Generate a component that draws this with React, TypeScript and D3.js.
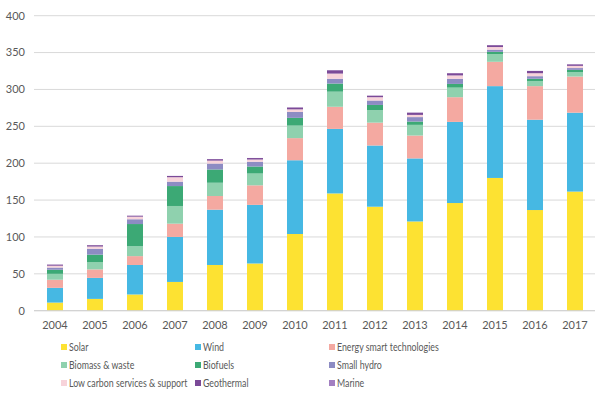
import * as d3 from "d3";

const years = ["2004", "2005", "2006", "2007", "2008", "2009", "2010", "2011", "2012", "2013", "2014", "2015", "2016", "2017"];

const solar = [11, 16, 22, 39, 62, 64, 104, 159, 141, 121, 146, 180, 136.5, 161.5];
const wind = [20, 28.5, 40, 61, 75, 79.5, 100, 87.5, 83, 85.5, 110, 124.5, 122.5, 107];
const energySmart = [11, 11.5, 12, 18, 18.5, 26.5, 30, 30, 31, 31, 33.5, 33, 45.5, 49];
const biomass = [8, 10, 13.5, 24, 18, 16, 17, 20.5, 17, 14.5, 13, 10.5, 7, 6];
const biofuels = [5.5, 10, 30, 27, 18, 9.5, 10.5, 11, 7, 4.5, 5, 3, 3, 3];
const smallHydro = [3, 8, 6.5, 6, 8, 6.5, 8, 6.5, 6, 6, 7, 3, 3.5, 2.5];
const lowCarbon = [2.5, 3, 3.5, 6, 4, 3, 3.5, 7, 4.5, 3, 4.5, 3.5, 4, 3];
const geothermal = [1.5, 1.8, 1.3, 1.7, 2, 2, 2.5, 4.5, 2, 3, 3, 2.5, 3, 2];
const marine = [0.1, 0.1, 0.1, 0.1, 0.1, 0.1, 0.2, 0.2, 0.2, 0.2, 0.2, 0.2, 0.2, 0.2];

const yTicks = [0, 50, 100, 150, 200, 250, 300, 350, 400];

const seriesList = [
  { name: "Solar", values: solar, color: "#fde232" },
  { name: "Wind", values: wind, color: "#46b8e3" },
  { name: "Energy smart technologies", values: energySmart, color: "#f4a9a1" },
  { name: "Biomass & waste", values: biomass, color: "#8fd1ae" },
  { name: "Biofuels", values: biofuels, color: "#3ca975" },
  { name: "Small hydro", values: smallHydro, color: "#8d8cc3" },
  { name: "Low carbon services & support", values: lowCarbon, color: "#f7d3da" },
  { name: "Geothermal", values: geothermal, color: "#7b4a98" },
  { name: "Marine", values: marine, color: "#a27fc1" },
];

const width = 609;
const height = 394;
const font = "Lato, 'Open Sans', sans-serif";
const textColor = "#595959";

export default function App() {
  const x = d3.scaleBand().domain(years).range([35, 595]).paddingInner(0.6).paddingOuter(0.3);
  const y = d3.scaleLinear().domain([0, 400]).range([310.7, 15.7]);

  const table = years.map((yr, i) => {
    const row: Record<string, number | string> = { year: yr };
    seriesList.forEach((s) => (row[s.name] = s.values[i]));
    return row;
  });
  // @ts-ignore
  const stacked = d3.stack().keys(seriesList.map((s) => s.name))(table);

  const legendCols = [62, 196, 330];
  const legendRows = [347, 365, 383];

  return (
    <div style={{ position: "absolute", left: 0, top: 0 }}>
      <svg width={width} height={height} style={{ display: "block" }}>
        <rect width={width} height={height} fill="#fff" />
        {yTicks.map((t) => (
          <g key={t}>
            <line x1={34} x2={595} y1={y(t)} y2={y(t)} stroke="#d9d9d9" strokeWidth={1} />
            <text x={25} y={y(t)} dy="0.35em" textAnchor="end" fontFamily={font} fontSize={11} fill={textColor}>
              {t}
            </text>
          </g>
        ))}
        {stacked.map((layer: any, li: number) => (
          <g key={layer.key} fill={seriesList[li].color}>
            {layer.map((d: any, i: number) => (
              <rect
                key={i}
                x={x(years[i])}
                y={y(d[1])}
                width={x.bandwidth()}
                height={Math.max(0, y(d[0]) - y(d[1]))}
              />
            ))}
          </g>
        ))}
        <line x1={34} x2={595} y1={y(0)} y2={y(0)} stroke="#d0d0d0" strokeWidth={1} />
        {years.map((yr) => (
          <text
            key={yr}
            x={(x(yr) as number) + x.bandwidth() / 2}
            y={329}
            textAnchor="middle"
            fontFamily={font}
            fontSize={11}
            fill={textColor}
          >
            {yr}
          </text>
        ))}
        {seriesList.map((s, i) => {
          const cx = legendCols[i % 3];
          const cy = legendRows[Math.floor(i / 3)];
          return (
            <g key={s.name}>
              <rect x={cx - 1} y={cy - 3} width={6} height={6} fill={s.color} />
              {/* Calibri-like narrow text: squeeze Lato horizontally */}
              <g transform={`translate(${cx + 7}, ${cy}) scale(0.8, 1)`}>
                <text dy="0.35em" fontFamily={font} fontSize={11} fill={textColor}>
                  {s.name}
                </text>
              </g>
            </g>
          );
        })}
      </svg>
    </div>
  );
}
